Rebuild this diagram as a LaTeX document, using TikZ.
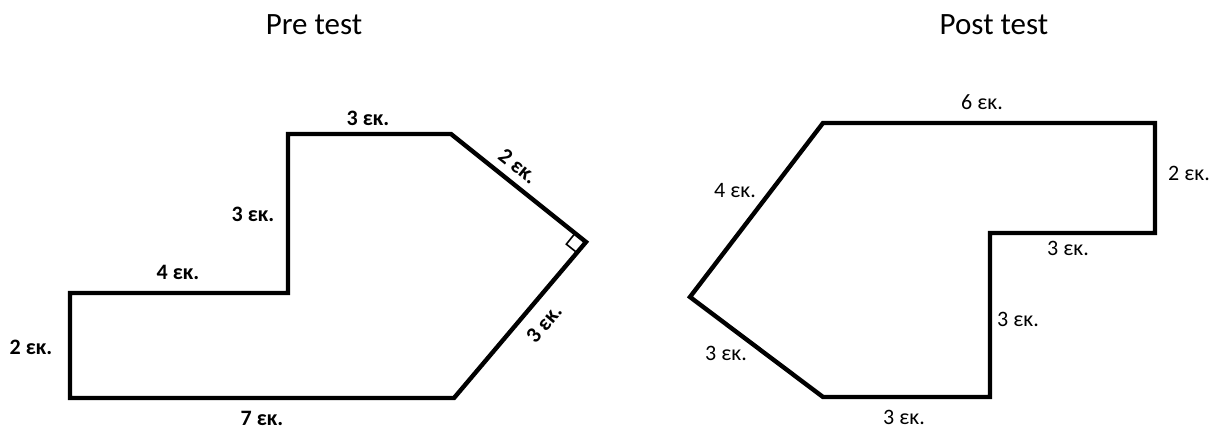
\documentclass[tikz,border=0pt]{standalone}
\usepackage{fontspec}
\setmainfont{Carlito}
\usetikzlibrary{calc}

\begin{document}
\begin{tikzpicture}[x=0.5pt, y=-0.5pt, line width=2.2pt, line join=miter,
  lbl/.style={inner sep=0pt, font=\fontsize{11}{13}\selectfont},
  blbl/.style={inner sep=0pt, font=\fontsize{11}{13}\selectfont\bfseries},
  ttl/.style={inner sep=0.75pt, font=\fontsize{15.5}{18}\selectfont}]
\useasboundingbox (0,0) rectangle (1211,427);
%Titles
\node[ttl, anchor=base] (pre) at (314,35) {Pre test};
\node[ttl, anchor=base] (post) at (994,35) {Post test};
%Pre test shape
\coordinate (a1) at (70,398);
\coordinate (a2) at (70,293);
\coordinate (a3) at (288,293);
\coordinate (a4) at (288,134);
\coordinate (a5) at (451,134);
\coordinate (a6) at (586,242);
\coordinate (a7) at (454,398);
\draw (a1) -- (a2) -- (a3) -- (a4) -- (a5) -- (a6) -- (a7) -- cycle;
\draw[line width=0.8pt] ($(a6)!7pt!(a5)$) -- ($(a6)!7pt!(a5)!7pt!90:(a5)$) -- ($(a6)!7pt!(a7)$);
\node[blbl] (p1) at (368,118) {3 εκ.};
\node[blbl, rotate=-38.7] (p2) at (518,166) {2 εκ.};
\node[blbl] (p3) at (253,214) {3 εκ.};
\node[blbl] (p4) at (178,272) {4 εκ.};
\node[blbl] (p5) at (31,347) {2 εκ.};
\node[blbl] (p6) at (262,418) {7 εκ.};
\node[blbl, rotate=49.8] (p7) at (544,324) {3 εκ.};
%Post test shape
\coordinate (b1) at (823,123);
\coordinate (b2) at (1155,123);
\coordinate (b3) at (1155,233);
\coordinate (b4) at (990,233);
\coordinate (b5) at (990,397);
\coordinate (b6) at (823,397);
\coordinate (b7) at (690,297);
\draw (b1) -- (b2) -- (b3) -- (b4) -- (b5) -- (b6) -- (b7) -- cycle;
\node[lbl] (q1) at (982,102) {6 εκ.};
\node[lbl] (q2) at (1189,173) {2 εκ.};
\node[lbl] (q3) at (1068,248) {3 εκ.};
\node[lbl] (q4) at (1018,319) {3 εκ.};
\node[lbl] (q5) at (904,417) {3 εκ.};
\node[lbl] (q6) at (726,353) {3 εκ.};
\node[lbl] (q7) at (735,191) {4 εκ.};
\end{tikzpicture}
\end{document}
